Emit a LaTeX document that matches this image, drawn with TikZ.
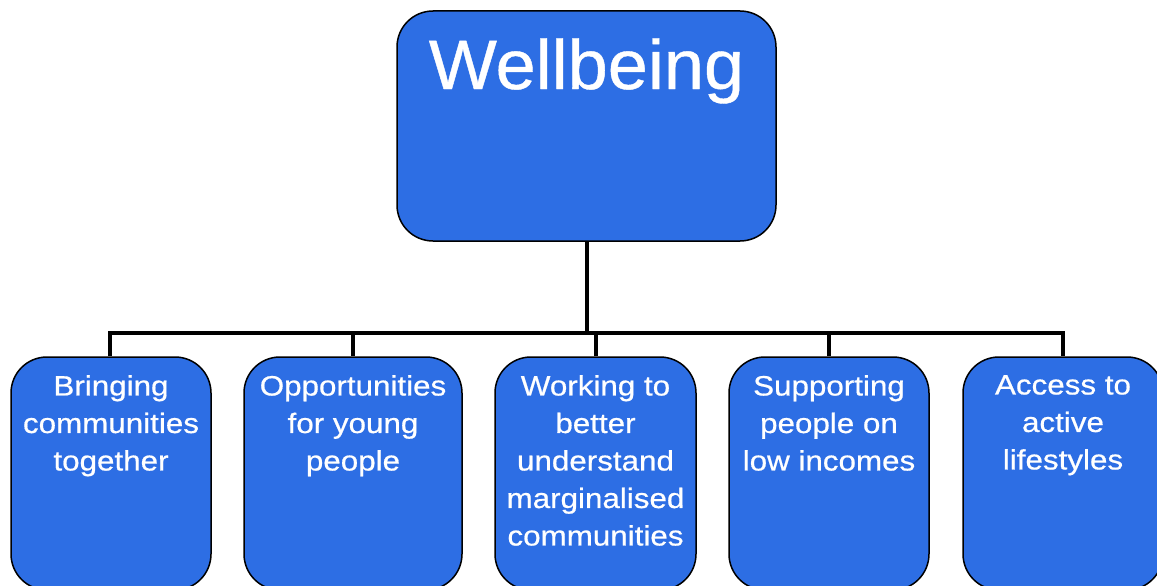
\documentclass[tikz,border=0pt]{standalone}
\usepackage{fontspec}
\setmainfont{Liberation Sans}[FakeStretch=1.12,FakeBold=0.6]
\newfontfamily\titlefont{Liberation Sans}[FakeStretch=1.03,FakeBold=0.6]
\definecolor{boxblue}{RGB}{45,110,228}
\begin{document}
\begin{tikzpicture}[x=1pt,y=-1pt,
  box/.style={draw=black, line width=1.5pt, fill=boxblue, rounded corners=36pt,
    inner sep=0pt, minimum height=233pt},
  lbl/.style={text=white, align=center, inner sep=0pt, anchor=north,
    font={\fontsize{28}{37.5}\selectfont}},
  conn/.style={draw=black, line width=4.5pt}]
\useasboundingbox (0,0) rectangle (1157,586);
% top box
\node[box, minimum width=379pt, minimum height=230pt] (top) at (586.5,126) {};
\node[text=white, inner sep=0pt, anchor=base, font={\titlefont\fontsize{70}{80}\selectfont}] (toptext) at (586.5,89) {Wellbeing};
% bottom boxes
\node[box, minimum width=200pt] (b1) at (111,473.5) {};
\node[box, minimum width=218pt] (b2) at (353,473.5) {};
\node[box, minimum width=201pt] (b3) at (595.5,473.5) {};
\node[box, minimum width=200pt] (b4) at (829,473.5) {};
\node[box, minimum width=200pt] (b5) at (1063,473.5) {};
% labels
\node[lbl] (t1) at (111,375) {Bringing\\communities\\together};
\node[lbl] (t2) at (353,375) {Opportunities\\for young\\people};
\node[lbl] (t3) at (595.5,375) {Working to\\better\\understand\\marginalised\\communities};
\node[lbl] (t4) at (829,375) {Supporting\\people on\\low incomes};
\node[lbl] (t5) at (1063,375) {Access to\\active\\lifestyles};
% connectors
\coordinate (bus) at (587,333);
\draw[conn] (top.south -| bus) -- (bus);
\draw[conn] ([xshift=-1pt]b1.north) |- (bus);
\draw[conn] (b2.north) |- (bus);
\draw[conn] ([xshift=0.5pt]b3.north) |- (bus);
\draw[conn] (b4.north) |- (bus);
\draw[conn] (b5.north) |- (bus);
\end{tikzpicture}
\end{document}
